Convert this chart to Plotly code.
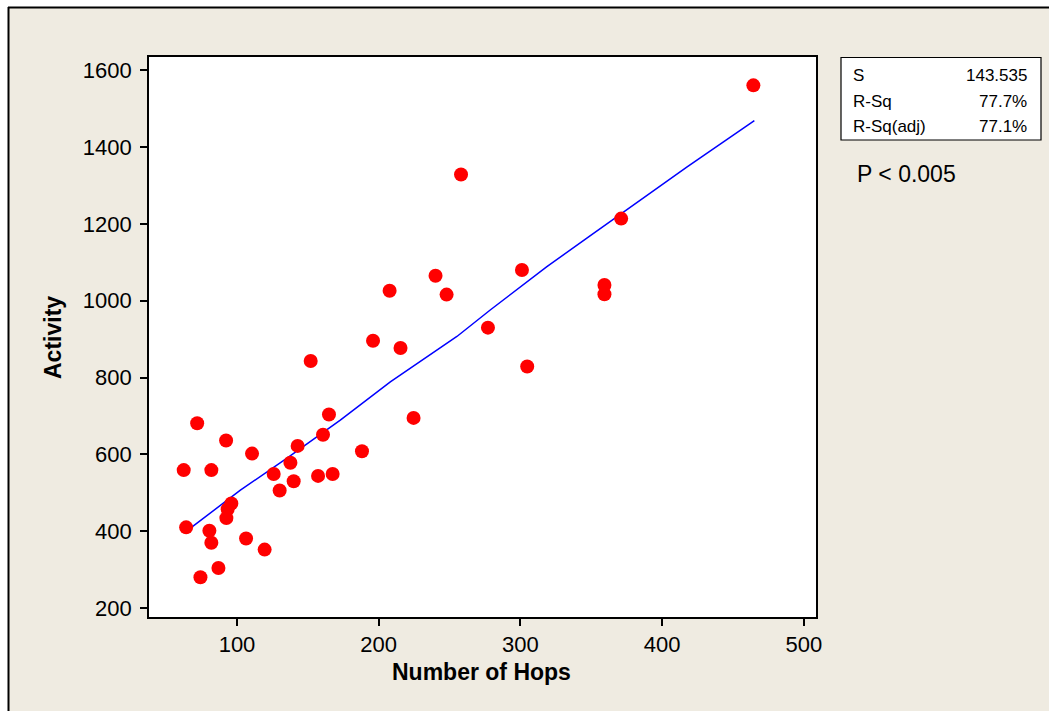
import plotly.graph_objects as go

# ---- data ----
hops = [71.9, 92.3, 110.6, 62.4, 81.9, 164.9, 160.7, 142.8, 137.7, 125.9,
        140.0, 130.1, 157.2, 167.5, 188.2, 224.6, 96.0, 93.4, 92.5, 64.1,
        80.5, 81.9, 106.4, 119.5, 86.9, 74.2, 152.0, 196.0, 215.4, 207.7,
        240.1, 247.9, 277.1, 464.4, 258.1, 371.1, 301.1, 359.3, 359.3, 304.8]
activity = [681, 636, 602, 559, 559, 704, 651, 622, 578, 549,
            530, 506, 544, 549, 608, 695, 472, 457, 434, 410,
            401, 370, 381, 352, 304, 280, 843, 896, 877, 1026,
            1065, 1016, 930, 1561, 1329, 1214, 1080, 1041, 1017, 829]

fit_x = [68.3, 102.4, 135.3, 172.9, 208.2, 255.2, 278.7, 318.7, 346.9, 417.4, 465.1]
fit_y = [411, 507, 590, 689, 789, 907, 976, 1089, 1163, 1348, 1469]

x_ticks = [100, 200, 300, 400, 500]
y_ticks = [200, 400, 600, 800, 1000, 1200, 1400, 1600]

stat_labels = ["S", "R-Sq", "R-Sq(adj)"]
stat_values = ["143.535", "77.7%", "77.1%"]
p_text = "P < 0.005"

# ---- layout geometry (pixels) ----
W, H = 1049, 711
L, R, T, B = 149, 816, 57, 617
BG = "#EFEBE1"
FONT = "Liberation Sans, Arial, sans-serif"

def px(xp):
    return (xp - L) / (R - L)

def py(yp):
    return (B - yp) / (B - T)

fig = go.Figure()
fig.add_trace(go.Scatter(x=fit_x, y=fit_y, mode="lines",
                         line=dict(color="#0000FF", width=1.5), hoverinfo="skip"))
fig.add_trace(go.Scatter(x=hops, y=activity, mode="markers",
                         marker=dict(color="#FF0000", size=14, line=dict(width=0))))

shapes = [
    # white strips outside the outer frame
    dict(type="rect", xref="paper", yref="paper", x0=px(-5), x1=px(W + 5), y0=py(-5), y1=py(7),
         fillcolor="white", line=dict(width=0), layer="above"),
    dict(type="rect", xref="paper", yref="paper", x0=px(-5), x1=px(8), y0=py(-5), y1=py(H + 5),
         fillcolor="white", line=dict(width=0), layer="above"),
    # outer frame lines
    dict(type="line", xref="paper", yref="paper", x0=px(8), x1=px(W + 5), y0=py(7.5), y1=py(7.5),
         line=dict(color="black", width=2), layer="above"),
    dict(type="line", xref="paper", yref="paper", x0=px(8.5), x1=px(8.5), y0=py(7), y1=py(H + 5),
         line=dict(color="black", width=2), layer="above"),
    # stats box
    dict(type="rect", xref="paper", yref="paper", x0=px(841), x1=px(1041), y0=py(140), y1=py(57.5),
         fillcolor="white", line=dict(color="black", width=1.2), layer="above"),
]

annotations = []
row_y = [75, 101, 126]
for lab, val, ry in zip(stat_labels, stat_values, row_y):
    annotations.append(dict(text=lab, xref="paper", yref="paper", x=px(851), y=py(ry),
                            xanchor="left", yanchor="middle", showarrow=False,
                            font=dict(family=FONT, size=17, color="black")))
    annotations.append(dict(text=val, xref="paper", yref="paper", x=px(1029), y=py(ry),
                            xanchor="right", yanchor="middle", showarrow=False,
                            font=dict(family=FONT, size=17, color="black")))
annotations.append(dict(text=p_text, xref="paper", yref="paper", x=px(855), y=py(174),
                        xanchor="left", yanchor="middle", showarrow=False,
                        font=dict(family=FONT, size=23, color="black")))
annotations.append(dict(text="<b>Number of Hops</b>", xref="paper", yref="paper",
                        x=px(481), y=py(672), xanchor="center", yanchor="middle", showarrow=False,
                        font=dict(family=FONT, size=23, color="black")))
annotations.append(dict(text="<b>Activity</b>", xref="paper", yref="paper",
                        x=px(53), y=py(338), xanchor="center", yanchor="middle", showarrow=False,
                        textangle=-90, font=dict(family=FONT, size=23, color="black")))

fig.update_layout(
    width=W, height=H,
    margin=dict(l=L, r=W - R, t=T, b=H - B, pad=0),
    paper_bgcolor=BG, plot_bgcolor="white",
    showlegend=False,
    shapes=shapes, annotations=annotations,
    font=dict(family=FONT, size=22, color="black"),
)
fig.update_xaxes(range=[37.9, 508.6], tickvals=x_ticks, ticks="outside", ticklen=7,
                 tickwidth=1.5, tickcolor="black", showline=True, linecolor="black",
                 linewidth=1.6, mirror=True, showgrid=False, zeroline=False,
                 tickfont=dict(family=FONT, size=22, color="black"))
fig.update_yaxes(range=[176.5, 1634.8], tickvals=y_ticks, ticks="outside", ticklen=7,
                 tickwidth=1.5, tickcolor="black", showline=True, linecolor="black",
                 linewidth=1.6, mirror=True, showgrid=False, zeroline=False,
                 ticklabelstandoff=4,
                 tickfont=dict(family=FONT, size=22, color="black"))

fig.write_html("out.html")
